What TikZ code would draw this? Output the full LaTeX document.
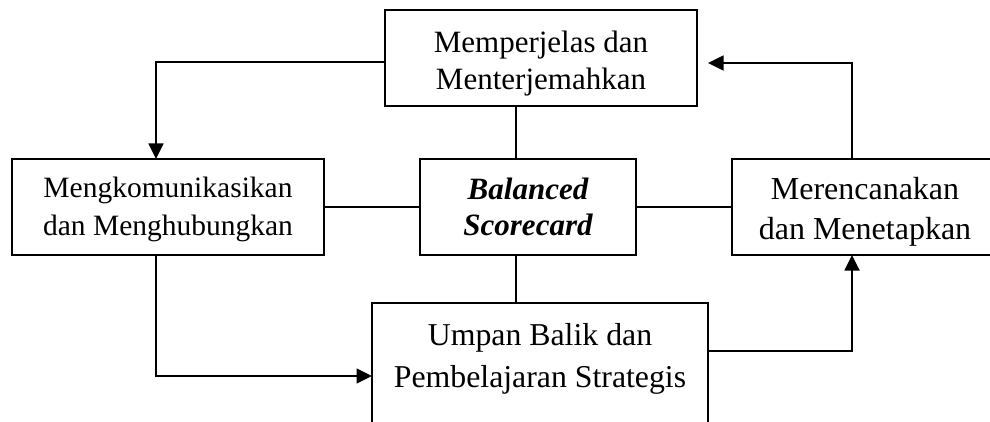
\documentclass[tikz,border=0pt]{standalone}
\usepackage{fontspec}
\setmainfont{Liberation Serif}
\usetikzlibrary{arrows.meta}
\begin{document}
\begin{tikzpicture}[x=1pt,y=-1pt, line width=1.8pt,
  box/.style={draw, line width=1.8pt, inner sep=0pt, outer sep=0pt},
  txt/.style={anchor=base, inner sep=0pt, font=\fontsize{31}{37}\selectfont},
  arr/.style={-{Triangle[length=15.5pt,width=15pt]}}]
\useasboundingbox (0,0) rectangle (990,422);
\clip (0,0) rectangle (990,422);
% boxes
\node[box, minimum width=312pt, minimum height=96pt] (top) at (541,58) {};
\node[box, minimum width=312pt, minimum height=96pt] (left) at (168,207) {};
\node[box, minimum width=216pt, minimum height=96pt] (bsc) at (528,207) {};
\node[box, minimum width=266pt, minimum height=96pt] (plan) at (865,207) {};
\node[box, minimum width=336pt, minimum height=140pt] (fb) at (540,373) {};
% texts
\node[txt] (t1) at (541,53) {Memperjelas dan};
\node[txt] (t2) at (541,90) {Menterjemahkan};
\node[txt, font=\fontsize{29.5}{35}\selectfont] (l1) at (168,197) {Mengkomunikasikan};
\node[txt, font=\fontsize{29.5}{35}\selectfont] (l2) at (168,235) {dan Menghubungkan};
\node[txt, font=\fontsize{31}{37}\selectfont\bfseries\itshape] (b1) at (528,200) {Balanced};
\node[txt, font=\fontsize{31}{37}\selectfont\bfseries\itshape] (b2) at (528,235) {Scorecard};
\node[txt, font=\fontsize{32}{38}\selectfont] (p1) at (865,200) {Merencanakan};
\node[txt, font=\fontsize{32}{38}\selectfont] (p2) at (865,240) {dan Menetapkan};
\node[txt, font=\fontsize{31.8}{38}\selectfont] (f1) at (540,345) {Umpan Balik dan};
\node[txt, font=\fontsize{31.8}{38}\selectfont] (f2) at (540,387) {Pembelajaran Strategis};
% connectors
\coordinate (tip) at ([xshift=11pt]top.east |- 0,63);
\draw[arr] (top.west |- 0,62) -| (left.north -| 156,0);
\draw[arr] (left.south -| 156,0) |- (fb.west |- 0,376);
\draw[arr] (fb.east |- 0,351) -| (plan.south -| 852,0);
\draw[arr] (plan.north -| 852,0) |- (tip);
\draw (top.south -| 516,0) -- (bsc.north -| 516,0);
\draw (bsc.south -| 516,0) -- (fb.north -| 516,0);
\draw (left) -- (bsc);
\draw (bsc) -- (plan);
\end{tikzpicture}
\end{document}
